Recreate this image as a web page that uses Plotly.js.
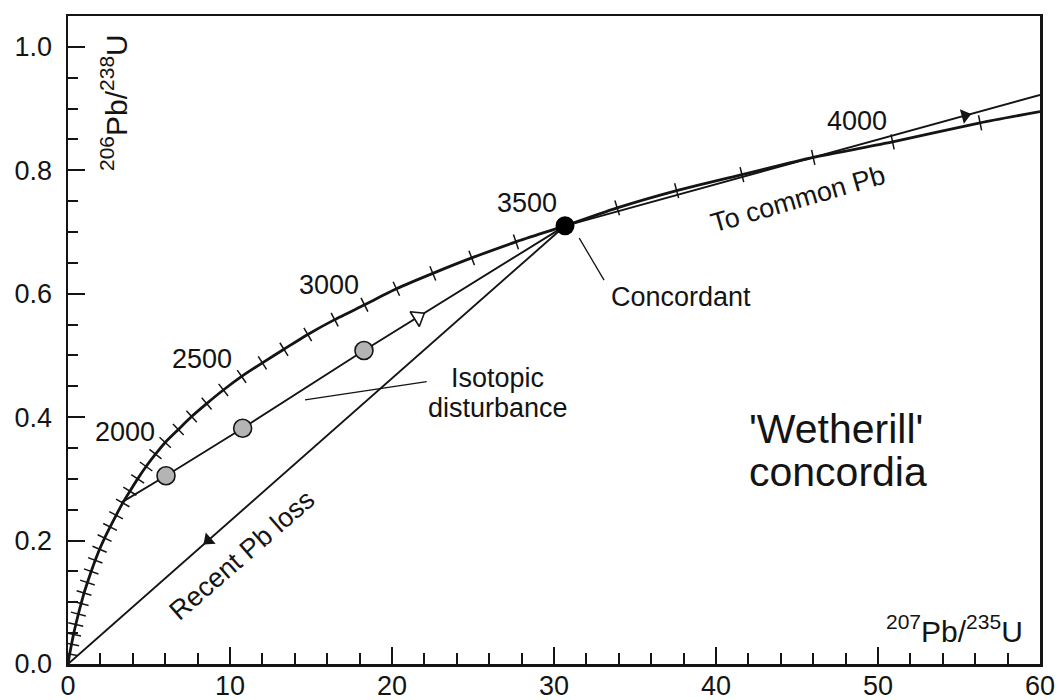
<!DOCTYPE html>
<html><head><meta charset="utf-8">
<script src="https://cdn.plot.ly/plotly-3.0.1.min.js"></script>
<style>html,body{margin:0;padding:0;background:#fff}#chart{width:1059px;height:700px}</style>
</head><body><div id="chart"></div>
<script>
// Concordia curve, read at 100 Ma steps (Ma)
const concordiaAge = [0,100,200,300,400,500,600,700,800,900,1000,1100,1200,1300,1400,1500,1600,1700,1800,1900,2000,2100,2200,2300,2400,2500,2600,2700,2800,2900,3000,3100,3200,3300,3400,3500,3600,3700,3800,3900,4000,4100];
const concordiaX = [0,0.10,0.22,0.34,0.48,0.64,0.81,0.99,1.20,1.43,1.68,1.95,2.26,2.60,2.97,3.38,3.82,4.30,4.82,5.40,6.00,6.81,7.63,8.56,9.59,10.72,12.00,13.33,14.80,16.46,18.30,20.27,22.52,24.92,27.65,30.68,33.90,37.57,41.60,46.00,50.90,56.30];
const concordiaY = [0,0.016,0.032,0.048,0.064,0.081,0.098,0.115,0.132,0.150,0.168,0.186,0.204,0.222,0.241,0.261,0.280,0.300,0.320,0.340,0.359,0.380,0.401,0.422,0.444,0.466,0.488,0.510,0.534,0.558,0.582,0.608,0.633,0.658,0.684,0.710,0.739,0.767,0.793,0.821,0.846,0.877];
const concordiaEndX = [60];
const concordiaEndY = [0.895];
const ageLabels = ['2000','2500','3000','3500','4000'];

// Discordant samples and lines
const sampleX = [6.05, 10.78, 18.27];
const sampleY = [0.305, 0.382, 0.508];
const concordantX = [30.68];
const concordantY = [0.710];
const disturbX = [3.31, 6.05, 10.78, 18.27, 30.68];
const disturbY = [0.262, 0.305, 0.382, 0.508, 0.710];
const pbLossX = [0, 30.68];
const pbLossY = [0, 0.710];
const commonPbX = [30.68, 60];
const commonPbY = [0.710, 0.922];

// Arrowheads on the lines: position and the point they head towards
const arrowX = [8.66, 55.37, 21.6];
const arrowY = [0.2004, 0.8885, 0.562];
const arrowToX = [0, 60, 30.68];
const arrowToY = [0, 0.922, 0.710];

const W = 1059, H = 700;
const M = {l: 68, r: 19, t: 16, b: 36, pad: 0};
const XR = [0, 60], YR = [0, 1.05];
const kx = (W - M.l - M.r) / (XR[1] - XR[0]);
const ky = (H - M.t - M.b) / (YR[1] - YR[0]);

const ink = '#141414';
const FONT = 'Liberation Sans, Arial, Helvetica, sans-serif';

// curve path including the point where it leaves the frame
const pathX = concordiaX.concat(concordiaEndX);
const pathY = concordiaY.concat(concordiaEndY);

// perpendicular tick marks on the concordia at each 100 Ma
const tickX = [], tickY = [], tickAng = [];
for (let i = 1; i < concordiaAge.length; i++) {
  const dx = (pathX[i + 1] - pathX[i - 1]) * kx;
  const dy = -(pathY[i + 1] - pathY[i - 1]) * ky;
  tickX.push(concordiaX[i]);
  tickY.push(concordiaY[i]);
  tickAng.push(Math.atan2(dy, dx) * 180 / Math.PI);
}

const arrowAng = arrowX.map((x, i) => {
  const dx = (arrowToX[i] - x) * kx;
  const dy = (arrowToY[i] - arrowY[i]) * ky;
  return Math.atan2(dx, dy) * 180 / Math.PI;
});

const traces = [
  {x: pbLossX, y: pbLossY, mode: 'lines', line: {color: ink, width: 1.9}, hoverinfo: 'skip'},
  {x: commonPbX, y: commonPbY, mode: 'lines', line: {color: ink, width: 1.9}, hoverinfo: 'skip'},
  {x: disturbX, y: disturbY, mode: 'lines', line: {color: ink, width: 1.9}, hoverinfo: 'skip'},
  {x: pathX, y: pathY, mode: 'lines', line: {color: ink, width: 2.8, shape: 'spline', smoothing: 0.6}, hoverinfo: 'skip'},
  {x: tickX, y: tickY, mode: 'markers', hoverinfo: 'skip',
   marker: {symbol: 'line-ns', size: 11, angle: tickAng, color: ink, line: {color: ink, width: 1.5}}},
  {x: arrowX.slice(0, 2), y: arrowY.slice(0, 2), mode: 'markers', hoverinfo: 'skip',
   marker: {symbol: 'triangle-up', size: 13, angle: arrowAng.slice(0, 2), color: ink, line: {width: 0}}},
  {x: arrowX.slice(2), y: arrowY.slice(2), mode: 'markers', hoverinfo: 'skip',
   marker: {symbol: 'triangle-up', size: 15, angle: arrowAng.slice(2), color: '#ffffff', line: {color: ink, width: 1.6}}},
  {x: sampleX, y: sampleY, mode: 'markers', hoverinfo: 'skip',
   marker: {symbol: 'circle', size: 18, color: '#b4b4b4', line: {color: ink, width: 1.6}}},
  {x: concordantX, y: concordantY, mode: 'markers', hoverinfo: 'skip',
   marker: {symbol: 'circle', size: 19, color: '#000000', line: {width: 0}}}
];

const labelPos = [[3.52, 0.376], [8.27, 0.494], [16.11, 0.614], [28.33, 0.747], [48.7, 0.880]];
const txt = (text, x, y, size, extra) => Object.assign({
  text: text, x: x, y: y, xref: 'x', yref: 'y', showarrow: false,
  xanchor: 'center', yanchor: 'middle', font: {family: FONT, size: size, color: ink}
}, extra || {});

const annotations = ageLabels.map((t, i) => txt(t, labelPos[i][0], labelPos[i][1], 27));
annotations.push(
  txt('Concordant', 37.84, 0.595, 27),
  txt('Isotopic', 26.54, 0.4635, 27),
  txt('disturbance', 26.54, 0.415, 27),
  txt("'Wetherill'", 47.4, 0.380, 41),
  txt('concordia', 47.5, 0.311, 41),
  txt('To common Pb', 45.09, 0.753, 27, {textangle: -16}),
  txt('Recent Pb loss', 10.74, 0.177, 27, {textangle: -41}),
  txt('<sup>207</sup>Pb/<sup>235</sup>U', 54.7, 0.057, 30),
  txt('<sup>206</sup>Pb/<sup>238</sup>U', 2.84, 0.909, 30, {textangle: -90})
);

const shapes = [
  {type: 'line', xref: 'x', yref: 'y', x0: 14.63, y0: 0.428, x1: 22.14, y1: 0.4576, line: {color: ink, width: 1.3}},
  {type: 'line', xref: 'x', yref: 'y', x0: 31.56, y0: 0.690, x1: 33.09, y1: 0.622, line: {color: ink, width: 1.3}}
];

const axisCommon = {
  showgrid: false, zeroline: false, showline: true, linecolor: ink, linewidth: 2.5, mirror: true,
  ticks: 'inside', ticklen: 17, tickwidth: 2, tickcolor: ink,
  tickfont: {family: FONT, size: 27, color: ink}, fixedrange: true
};

const layout = {
  width: W, height: H, margin: M, showlegend: false,
  paper_bgcolor: '#ffffff', plot_bgcolor: '#ffffff',
  xaxis: Object.assign({}, axisCommon, {range: XR, tickmode: 'linear', tick0: 0, dtick: 10, ticklabelstandoff: -4,
    minor: {dtick: 2, ticks: 'inside', ticklen: 11, tickwidth: 2, tickcolor: ink, showgrid: false}}),
  yaxis: Object.assign({}, axisCommon, {range: YR, tickmode: 'linear', tick0: 0, dtick: 0.2, tickformat: '.1f', ticklabelstandoff: 8,
    minor: {dtick: 0.05, ticks: 'inside', ticklen: 10, tickwidth: 2, tickcolor: ink, showgrid: false}}),
  annotations: annotations, shapes: shapes
};

Plotly.newPlot('chart', traces, layout, {displayModeBar: false, staticPlot: true});
</script>
</body></html>
